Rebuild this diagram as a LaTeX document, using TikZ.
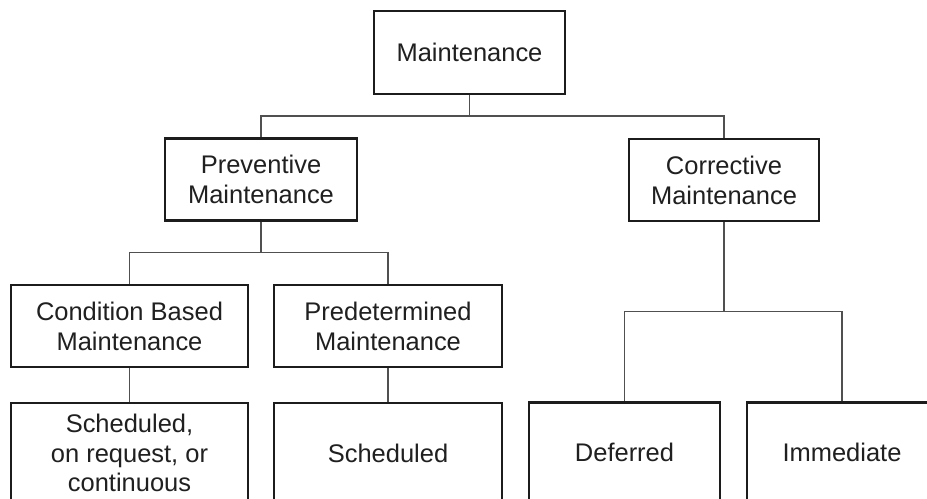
\documentclass[tikz,border=0pt]{standalone}
\usepackage{fontspec}
\setmainfont{Liberation Sans}
\usetikzlibrary{calc}
\definecolor{cbox}{HTML}{1C1C1C}
\definecolor{cline}{HTML}{505050}
\definecolor{ctext}{HTML}{202020}
\tikzset{
  every picture/.style={font=\fontsize{14.5}{17}\selectfont, line width=1.15pt},
  box/.style={draw=cbox, fill=white, align=center, text=ctext, inner sep=2pt, minimum width=#1},
  box/.default=190\unitpx,
  link/.style={draw=cline, line width=0.85pt},
}
\newlength{\unitpx}
\setlength{\unitpx}{0.02cm}
\begin{document}
\begin{tikzpicture}[x=0.02cm, y=-0.02cm,
                    top/.style={box=#1, minimum height=82\unitpx},
                    leaf/.style={box=#1, minimum height=100\unitpx}]
  \clip (0,0) rectangle (927,499);
  % levels 1 and 2
  \node[top=191\unitpx, minimum height=83\unitpx] (main) at (469.5,52.5) {Maintenance};
  \node[top=192\unitpx] (prev) at (261,179.5) {Preventive\\Maintenance};
  \node[top=190\unitpx] (corr) at (724,180) {Corrective\\Maintenance};
  % level 3
  \node[top=237\unitpx] (cbm) at (129.5,326) {Condition Based\\Maintenance};
  \node[top=228\unitpx] (pdm) at (388,326) {Predetermined\\Maintenance};
  % leaves
  \node[leaf=237\unitpx] (sch1) at (129.5,453) {Scheduled,\\on request, or\\continuous};
  \node[leaf=228\unitpx] (sch2) at (388,453) {Scheduled};
  \node[leaf=191\unitpx] (defr) at (624.5,452.5) {Deferred};
  \node[leaf=190\unitpx] (imm) at (842,452.5) {Immediate};
  % forks
  \coordinate (b1) at ($(main.south)!.5!(prev.north)$);
  \coordinate (b2) at ($(prev.south)!.5!(cbm.north)$);
  \coordinate (b3) at ($(corr.south)!.5!(defr.north)$);
  \draw[link] (main.south) |- (b1) -| (prev.north);
  \draw[link] (main.south) |- (b1) -| (corr.north);
  \draw[link] (prev.south) |- (b2) -| (cbm.north);
  \draw[link] (prev.south) |- (b2) -| (pdm.north);
  \draw[link] (corr.south) |- (b3) -| (defr.north);
  \draw[link] (corr.south) |- (b3) -| (imm.north);
  \foreach \a/\b in {cbm/sch1, pdm/sch2}
    \draw[link] (\a.south) -- (\b.north);
\end{tikzpicture}
\end{document}
